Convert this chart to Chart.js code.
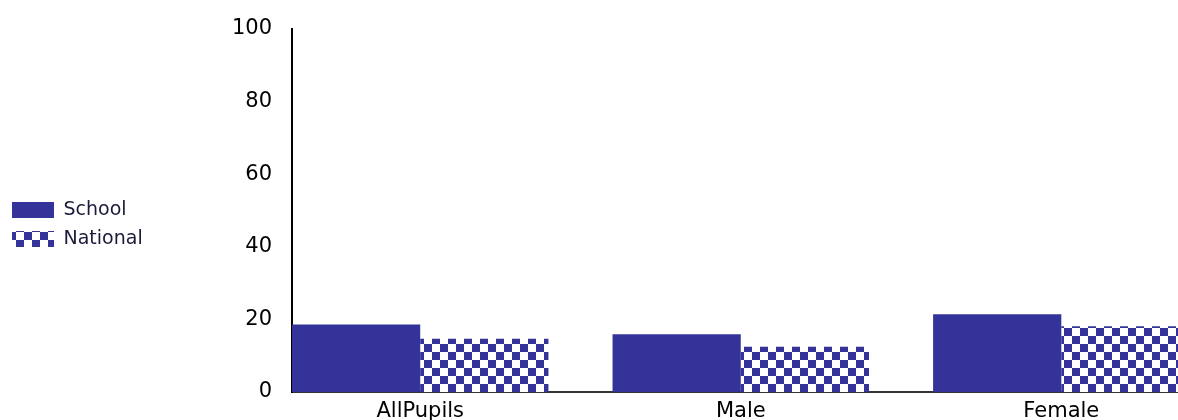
<!DOCTYPE html>
<html>
<head>
<meta charset="utf-8">
<script src="https://cdn.jsdelivr.net/npm/chart.js@4/dist/chart.umd.min.js"></script>
<style>
html, body { margin: 0; padding: 0; background: #fff; overflow: hidden; }
#wrap { width: 1178px; height: 420px; position: relative; }
</style>
</head>
<body>
<div id="wrap"><canvas id="myChart"></canvas></div>
<script>
var categories = ["AllPupils", "Male", "Female"];
var schoolValues = [18.6, 15.9, 21.4];
var nationalValues = [14.7, 12.5, 18.1];
var yTicks = [0, 20, 40, 60, 80, 100];

var navy = "#333399";

// checker pattern for the national series
function checker() {
    var c = document.createElement("canvas");
    c.width = 16; c.height = 16;
    var g = c.getContext("2d");
    g.fillStyle = "#fff";
    g.fillRect(0, 0, 16, 16);
    g.fillStyle = navy;
    g.fillRect(0, 0, 8, 8);
    g.fillRect(8, 8, 8, 8);
    return g.createPattern(c, "repeat");
}

function points(vals) {
    return vals.map(function (v, i) { return { x: i, y: v }; });
}

var font = { family: "'DejaVu Sans', sans-serif", size: 21 };

new Chart(document.getElementById("myChart"), {
    type: "bar",
    data: {
        datasets: [{
            label: "School",
            data: points(schoolValues),
            backgroundColor: navy,
            borderWidth: 0
        }, {
            label: "National",
            data: points(nationalValues),
            backgroundColor: checker(),
            borderWidth: 0
        }]
    },
    options: {
        responsive: true,
        maintainAspectRatio: false,
        devicePixelRatio: 1,
        animation: false,
        categoryPercentage: 0.8,
        barPercentage: 1.0,
        layout: { padding: { top: 29, left: 2, right: 0, bottom: 0 } },
        plugins: {
            tooltip: { enabled: false },
            legend: {
                position: "left",
                labels: {
                    boxWidth: 42,
                    boxHeight: 16,
                    padding: 10,
                    color: "#1a1a3a",
                    font: { family: "'DejaVu Sans', sans-serif", size: 19 }
                }
            }
        },
        scales: {
            x: {
                type: "linear",
                offset: false,
                min: -0.4,
                max: 2.364,
                grid: { display: false, drawTicks: false },
                border: { display: true, color: "#333", width: 2 },
                afterBuildTicks: function (scale) {
                    scale.ticks = categories.map(function (c, i) { return { value: i }; });
                },
                afterFit: function (scale) {
                    scale.height = 28;
                },
                ticks: {
                    padding: 7,
                    maxRotation: 0,
                    autoSkip: false,
                    color: "#000",
                    font: font,
                    callback: function (value) { return categories[value]; }
                }
            },
            y: {
                min: yTicks[0],
                max: yTicks[yTicks.length - 1],
                grid: { display: false, drawTicks: false },
                border: { display: true, color: "#000", width: 2 },
                afterBuildTicks: function (scale) {
                    scale.ticks = yTicks.map(function (v) { return { value: v }; });
                },
                afterFit: function (scale) {
                    scale.width = 292 - 2 - scale.chart.legend.width;
                    // tick padding shouldn't push the plot area in
                    scale.paddingTop = 0;
                    scale.paddingBottom = 0;
                },
                ticks: {
                    padding: 20,
                    color: "#000",
                    font: font
                }
            }
        }
    }
});
</script>
</body>
</html>
